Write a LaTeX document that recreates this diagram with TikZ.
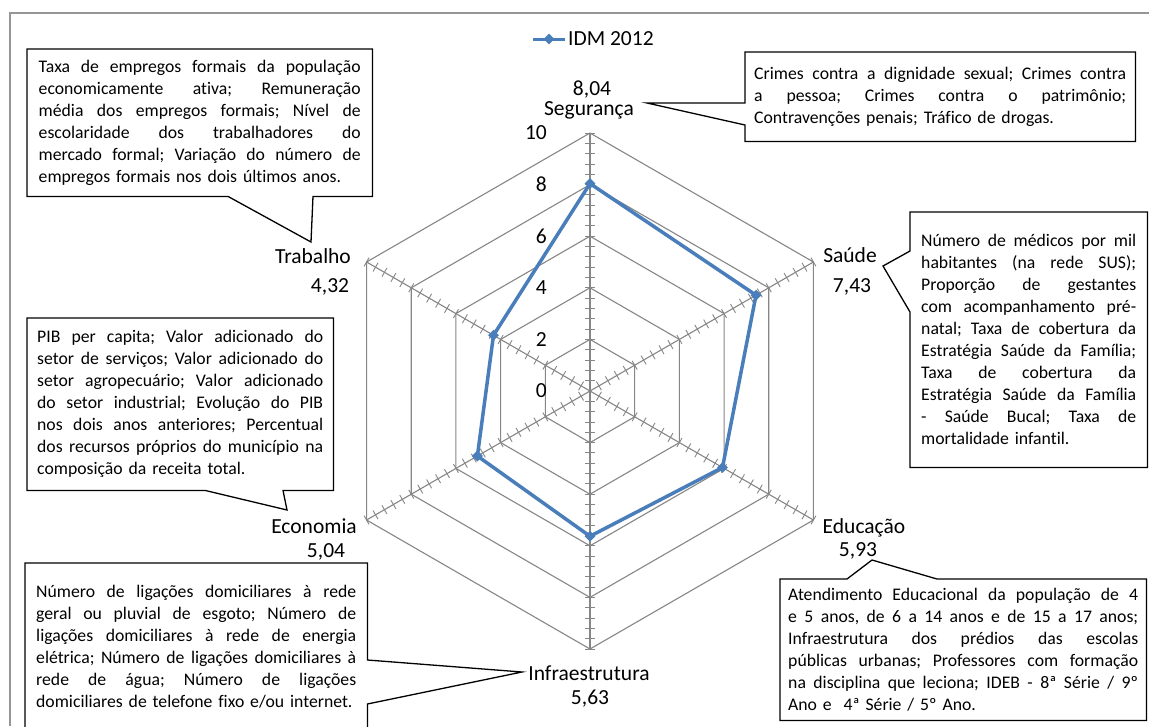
\documentclass[tikz,border=0pt]{standalone}
\usepackage{fontspec}
\setmainfont{Carlito}[Ligatures=NoCommon]
\usepackage{xcolor}
\usepackage{tikz}
\usetikzlibrary{shapes.geometric,calc}

\definecolor{azulIDM}{RGB}{74,126,187}
\definecolor{cinzaGrade}{RGB}{134,134,134}
\definecolor{cinzaMoldura}{RGB}{150,150,150}

\newcommand{\linha}[1]{\noindent\hbox to \hsize{\frenchspacing\spaceskip=0.2em plus 1fil\xspaceskip=\spaceskip #1}\par}

\begin{document}
\begin{tikzpicture}[x=1pt, y=-1pt]
				\tikzstyle{every node}=[font=\fontsize{21.5}{23}\selectfont, inner sep=0pt];
				\tikzstyle{nota}=[anchor=north west, font=\fontsize{17.7}{22}\selectfont\frenchspacing, inner ysep=0pt];
				\tikzstyle{caixa}=[black, line width=1.3pt, line join=miter];
				\tikzstyle{grade}=[cinzaGrade, line width=1.1pt];
				\tikzstyle{serie}=[azulIDM, line width=3.5pt, line join=round];
				\tikzstyle{marcador}=[diamond, fill=azulIDM, minimum size=11pt, inner sep=0pt];
				
				\useasboundingbox (0,0) rectangle (1149,726);
				
				%Frame
				\draw[cinzaMoldura, line width=1.3pt] (1149,13) -- (10,13) -- (10,726);
				
				%Legend
				\draw[serie, line width=3pt] (533,39) -- (565,39);
				\node[marcador] (legMarca) at (549,39) {};
				\node[anchor=west] (legTexto) at (568,39) {IDM 2012};
				
				%Grid, axes and ticks
				\coordinate (centro) at (590,391);
				\begin{scope}[shift={(centro)}]
					\foreach \n in {2,4,...,10}
						\draw[grade] (90:{\n*25.8pt}) \foreach \a in {30,-30,-90,-150,-210} { -- (\a:{\n*25.8pt}) } -- cycle;
					\foreach \a in {90,30,-30,-90,-150,-210} {
						\draw[grade] (0,0) -- (\a:258pt);
						\foreach \k in {1,...,25}
							\draw[grade, line width=0.9pt] (\a:{\k*10.32pt}) ++({\a+90}:5pt) -- ++({\a-90}:10pt);
					}
					\foreach \v/\a/\nome in {8.04/90/Seg, 7.43/30/Sau, 5.93/-30/Edu, 5.63/-90/Inf, 5.04/-150/Eco, 4.32/-210/Tra}
						\coordinate (d\nome) at (\a:{\v*25.8pt});
				\end{scope}
				\foreach \n in {0,2,...,10}
					\node[anchor=east] (esc\n) at (547,{391-25.8*\n}) {\n};
				
				%Series
				\draw[serie] (dSeg) -- (dSau) -- (dEdu) -- (dInf) -- (dEco) -- (dTra) -- cycle;
				\foreach \nome in {Seg,Sau,Edu,Inf,Eco,Tra}
					\node[marcador] (m\nome) at (d\nome) {};
				
				%Axis names and values
				\node[anchor=base] (valSeg) at (592,95) {8,04};
				\node[anchor=base] (labSeg) at (589,115) {Segurança};
				\node[anchor=base] (labSau) at (850,262) {Saúde};
				\node[anchor=base] (valSau) at (852,292) {7,43};
				\node[anchor=base] (labEdu) at (864,533) {Educação};
				\node[anchor=base] (valEdu) at (858,556) {5,93};
				\node[anchor=base] (labInf) at (589,680) {Infraestrutura};
				\node[anchor=base] (valInf) at (590,704) {5,63};
				\node[anchor=base] (labEco) at (314,533) {Economia};
				\node[anchor=base] (valEco) at (326,557) {5,04};
				\node[anchor=base] (labTra) at (313,263) {Trabalho};
				\node[anchor=base] (valTra) at (330,292) {4,32};
				
				%Callout: Trabalho
				\node[nota, text width=322pt, inner xsep=11.5pt, minimum height=147pt] (notaTra) at (27,49) {%
					\linha{Taxa de empregos formais da população}
					\linha{economicamente ativa; Remuneração}
					\linha{média dos empregos formais; Nível de}
					\linha{escolaridade dos trabalhadores do}
					\linha{mercado formal; Variação do número de}
					\noindent empregos formais nos dois últimos anos.};
				\coordinate (pTra) at (311,242);
				\draw[caixa] (notaTra.south west) -- (notaTra.north west) -- (notaTra.north east) -- (notaTra.south east)
					-- ($(notaTra.south west)+(286,0)$) -- (pTra) -- ($(notaTra.south west)+(201,0)$) -- cycle;
				
				%Callout: Segurança
				\node[nota, text width=372pt, inner xsep=9pt, minimum height=89pt] (notaSeg) at (745,52) {%
					\linha{Crimes contra a dignidade sexual; Crimes contra}
					\linha{a pessoa; Crimes contra o patrimônio;}
					\noindent Contravenções penais; Tráfico de drogas.};
				\coordinate (pSeg) at (647,103);
				\draw[caixa] (notaSeg.north west) -- (notaSeg.north east) -- (notaSeg.south east) -- (notaSeg.south west)
					-- ($(notaSeg.north west)+(0,73)$) -- (pSeg) -- ($(notaSeg.north west)+(0,51)$) -- cycle;
				
				%Callout: Saúde
				\node[nota, text width=215pt, inner xsep=11pt, minimum height=255pt] (notaSau) at (910,212) {%
					\linha{Número de médicos por mil}
					\linha{habitantes (na rede SUS);}
					\linha{Proporção de gestantes}
					\linha{com acompanhamento pré-}
					\linha{natal; Taxa de cobertura da}
					\linha{Estratégia Saúde da Família;}
					\linha{Taxa de cobertura da}
					\linha{Estratégia Saúde da Família}
					\linha{- Saúde Bucal; Taxa de}
					\noindent mortalidade infantil.};
				\coordinate (pSau) at (883,266);
				\draw[caixa] (notaSau.north west) -- (notaSau.north east) -- (notaSau.south east) -- (notaSau.south west)
					-- ($(notaSau.north west)+(0,100)$) -- (pSau) -- ($(notaSau.north west)+(0,39)$) -- cycle;
				
				%Callout: Economia
				\node[nota, text width=286pt, inner xsep=10pt, minimum height=172pt] (notaEco) at (27,318) {%
					\linha{PIB per capita; Valor adicionado do}
					\linha{setor de serviços; Valor adicionado do}
					\linha{setor agropecuário; Valor adicionado}
					\linha{do setor industrial; Evolução do PIB}
					\linha{nos dois anos anteriores; Percentual}
					\linha{dos recursos próprios do município na}
					\noindent composição da receita total.};
				\coordinate (pEco) at (287,510);
				\draw[caixa] (notaEco.south west) -- (notaEco.north west) -- (notaEco.north east) -- (notaEco.south east)
					-- ($(notaEco.south west)+(256,0)$) -- (pEco) -- ($(notaEco.south west)+(178,0)$) -- cycle;
				
				%Callout: Infraestrutura
				\node[nota, text width=320pt, inner xsep=11pt, minimum height=167pt] (notaInf) at (25,563) {%
					\linha{Número de ligações domiciliares à rede}
					\linha{geral ou pluvial de esgoto; Número de}
					\linha{ligações domiciliares à rede de energia}
					\linha{elétrica; Número de ligações domiciliares à}
					\linha{rede de água; Número de ligações}
					\noindent\hbox{domiciliares de telefone fixo e/ou internet.}};
				\coordinate (pInf) at (522,672);
				\draw[caixa] (notaInf.north west) -- (notaInf.north east) -- ($(notaInf.north east)+(0,97)$) -- (pInf)
					-- ($(notaInf.north east)+(0,141)$) -- (notaInf.south east) -- (notaInf.south west) -- cycle;
				
				%Callout: Educação
				\node[nota, text width=350pt, inner xsep=8pt, minimum height=141pt] (notaEdu) at (780,579) {%
					\linha{Atendimento Educacional da população de 4}
					\linha{e 5 anos, de 6 a 14 anos e de 15 a 17 anos;}
					\linha{Infraestrutura dos prédios das escolas}
					\linha{públicas urbanas; Professores com formação}
					\linha{na disciplina que leciona; IDEB - 8ª Série / 9º}
					\noindent Ano e~ 4ª Série / 5º Ano.};
				\coordinate (pEdu) at (872,560);
				\draw[caixa] (notaEdu.north west) -- ($(notaEdu.north west)+(67,0)$) -- (pEdu) -- ($(notaEdu.north west)+(157,0)$)
					-- (notaEdu.north east) -- (notaEdu.south east) -- (notaEdu.south west) -- cycle;
\end{tikzpicture}
\end{document}
